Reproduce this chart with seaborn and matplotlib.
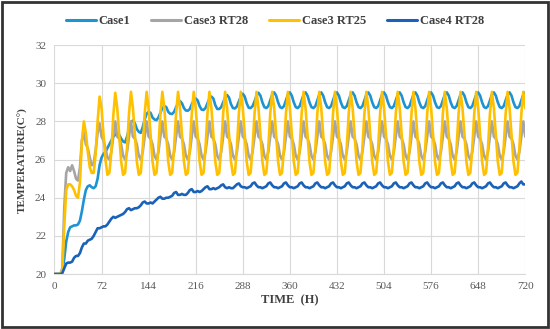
import numpy as np
import pandas as pd
import matplotlib.pyplot as plt
import seaborn as sns
from matplotlib.patches import Rectangle

# readings every 3 h, one row per day (t = 24k + 0,3,...,21), last value is t = 720
hours = np.arange(0, 721, 3)

case1 = [
    20.0, 20.0, 20.0, 20.0, 20.1, 20.8, 21.7, 22.2,
    22.45, 22.5, 22.55, 22.55, 22.6, 22.8, 23.3, 23.9,
    24.4, 24.6, 24.65, 24.55, 24.5, 24.6, 25.0, 25.7,
    26.1, 26.3, 26.4, 26.6, 26.8, 27.0, 27.2, 27.3,
    27.4, 27.3, 27.1, 26.95, 26.9, 27.2, 27.6, 27.95,
    28.05, 27.9, 27.6, 27.45, 27.4, 27.7, 28.1, 28.4,
    28.5, 28.45, 28.2, 28.1, 28.07, 28.2, 28.45, 28.7,
    28.8, 28.75, 28.5, 28.4, 28.39, 28.5, 28.75, 28.95,
    29.07, 28.95, 28.7, 28.57, 28.56, 28.65, 28.9, 29.1,
    29.2, 29.1, 28.8, 28.62, 28.6, 28.7, 28.95, 29.2,
    29.3, 29.2, 28.85, 28.65, 28.65, 28.75, 29.0, 29.25,
    29.38, 29.25, 28.9, 28.7, 28.68, 28.78, 29.05, 29.3,
    29.45, 29.3, 28.95, 28.72, 28.7, 28.8, 29.05, 29.35,
    29.5, 29.35, 29.0, 28.75, 28.7, 28.8, 29.1, 29.4,
    29.52, 29.35, 29.0, 28.75, 28.7, 28.8, 29.1, 29.4,
    29.52, 29.35, 29.0, 28.75, 28.7, 28.8, 29.1, 29.4,
    29.52, 29.35, 29.0, 28.75, 28.7, 28.8, 29.1, 29.4,
    29.52, 29.35, 29.0, 28.75, 28.7, 28.8, 29.1, 29.4,
    29.52, 29.35, 29.0, 28.75, 28.7, 28.8, 29.1, 29.4,
    29.52, 29.35, 29.0, 28.75, 28.7, 28.8, 29.1, 29.4,
    29.52, 29.35, 29.0, 28.75, 28.7, 28.8, 29.1, 29.4,
    29.52, 29.35, 29.0, 28.75, 28.7, 28.8, 29.1, 29.4,
    29.52, 29.35, 29.0, 28.75, 28.7, 28.8, 29.1, 29.4,
    29.52, 29.35, 29.0, 28.75, 28.7, 28.8, 29.1, 29.4,
    29.52, 29.35, 29.0, 28.75, 28.7, 28.8, 29.1, 29.4,
    29.52, 29.35, 29.0, 28.75, 28.7, 28.8, 29.1, 29.4,
    29.52, 29.35, 29.0, 28.75, 28.7, 28.8, 29.1, 29.4,
    29.52, 29.35, 29.0, 28.75, 28.7, 28.8, 29.1, 29.4,
    29.52, 29.35, 29.0, 28.75, 28.7, 28.8, 29.1, 29.4,
    29.52, 29.35, 29.0, 28.75, 28.7, 28.8, 29.1, 29.4,
    29.52,
]

case3_rt28 = [
    20.0, 20.0, 20.0, 20.0, 20.3, 23.5, 25.3, 25.6,
    25.4, 25.7, 25.4, 25.0, 24.9, 25.6, 27.0, 27.4,
    26.8, 26.6, 26.1, 25.7, 25.8, 26.5, 27.4, 27.9,
    27.2, 27.0, 26.6, 26.1, 26.0, 26.4, 27.2, 28.0,
    27.2, 27.1, 26.8, 26.2, 26.0, 26.4, 27.2, 28.0,
    27.2, 27.1, 26.8, 26.2, 26.0, 26.4, 27.2, 28.0,
    27.2, 27.1, 26.8, 26.2, 26.0, 26.4, 27.2, 28.0,
    27.2, 27.1, 26.8, 26.2, 26.0, 26.4, 27.2, 28.0,
    27.2, 27.1, 26.8, 26.2, 26.0, 26.4, 27.2, 28.0,
    27.2, 27.1, 26.8, 26.2, 26.0, 26.4, 27.2, 28.0,
    27.2, 27.1, 26.8, 26.2, 26.0, 26.4, 27.2, 28.0,
    27.2, 27.1, 26.8, 26.2, 26.0, 26.4, 27.2, 28.0,
    27.2, 27.1, 26.8, 26.2, 26.0, 26.4, 27.2, 28.0,
    27.2, 27.1, 26.8, 26.2, 26.0, 26.4, 27.2, 28.0,
    27.2, 27.1, 26.8, 26.2, 26.0, 26.4, 27.2, 28.0,
    27.2, 27.1, 26.8, 26.2, 26.0, 26.4, 27.2, 28.0,
    27.2, 27.1, 26.8, 26.2, 26.0, 26.4, 27.2, 28.0,
    27.2, 27.1, 26.8, 26.2, 26.0, 26.4, 27.2, 28.0,
    27.2, 27.1, 26.8, 26.2, 26.0, 26.4, 27.2, 28.0,
    27.2, 27.1, 26.8, 26.2, 26.0, 26.4, 27.2, 28.0,
    27.2, 27.1, 26.8, 26.2, 26.0, 26.4, 27.2, 28.0,
    27.2, 27.1, 26.8, 26.2, 26.0, 26.4, 27.2, 28.0,
    27.2, 27.1, 26.8, 26.2, 26.0, 26.4, 27.2, 28.0,
    27.2, 27.1, 26.8, 26.2, 26.0, 26.4, 27.2, 28.0,
    27.2, 27.1, 26.8, 26.2, 26.0, 26.4, 27.2, 28.0,
    27.2, 27.1, 26.8, 26.2, 26.0, 26.4, 27.2, 28.0,
    27.2, 27.1, 26.8, 26.2, 26.0, 26.4, 27.2, 28.0,
    27.2, 27.1, 26.8, 26.2, 26.0, 26.4, 27.2, 28.0,
    27.2, 27.1, 26.8, 26.2, 26.0, 26.4, 27.2, 28.0,
    27.2, 27.1, 26.8, 26.2, 26.0, 26.4, 27.2, 28.0,
    27.2,
]

case3_rt25 = [
    20.0, 20.0, 20.0, 20.0, 20.2, 22.5, 24.4, 24.7,
    24.7, 24.6, 24.4, 24.1, 24.0, 24.8, 27.0, 28.0,
    27.4, 26.4, 25.6, 25.3, 25.3, 26.3, 28.0, 29.3,
    28.7, 27.3, 26.0, 25.2, 25.3, 26.4, 28.3, 29.5,
    28.7, 27.3, 25.9, 25.2, 25.3, 26.6, 28.4, 29.55,
    28.7, 27.3, 25.9, 25.2, 25.3, 26.6, 28.4, 29.55,
    28.7, 27.3, 25.9, 25.2, 25.3, 26.6, 28.4, 29.55,
    28.7, 27.3, 25.9, 25.2, 25.3, 26.6, 28.4, 29.55,
    28.7, 27.3, 25.9, 25.2, 25.3, 26.6, 28.4, 29.55,
    28.7, 27.3, 25.9, 25.2, 25.3, 26.6, 28.4, 29.55,
    28.7, 27.3, 25.9, 25.2, 25.3, 26.6, 28.4, 29.55,
    28.7, 27.3, 25.9, 25.2, 25.3, 26.6, 28.4, 29.55,
    28.7, 27.3, 25.9, 25.2, 25.3, 26.6, 28.4, 29.55,
    28.7, 27.3, 25.9, 25.2, 25.3, 26.6, 28.4, 29.55,
    28.7, 27.3, 25.9, 25.2, 25.3, 26.6, 28.4, 29.55,
    28.7, 27.3, 25.9, 25.2, 25.3, 26.6, 28.4, 29.55,
    28.7, 27.3, 25.9, 25.2, 25.3, 26.6, 28.4, 29.55,
    28.7, 27.3, 25.9, 25.2, 25.3, 26.6, 28.4, 29.55,
    28.7, 27.3, 25.9, 25.2, 25.3, 26.6, 28.4, 29.55,
    28.7, 27.3, 25.9, 25.2, 25.3, 26.6, 28.4, 29.55,
    28.7, 27.3, 25.9, 25.2, 25.3, 26.6, 28.4, 29.55,
    28.7, 27.3, 25.9, 25.2, 25.3, 26.6, 28.4, 29.55,
    28.7, 27.3, 25.9, 25.2, 25.3, 26.6, 28.4, 29.55,
    28.7, 27.3, 25.9, 25.2, 25.3, 26.6, 28.4, 29.55,
    28.7, 27.3, 25.9, 25.2, 25.3, 26.6, 28.4, 29.55,
    28.7, 27.3, 25.9, 25.2, 25.3, 26.6, 28.4, 29.55,
    28.7, 27.3, 25.9, 25.2, 25.3, 26.6, 28.4, 29.55,
    28.7, 27.3, 25.9, 25.2, 25.3, 26.6, 28.4, 29.55,
    28.7, 27.3, 25.9, 25.2, 25.3, 26.6, 28.4, 29.55,
    28.7, 27.3, 25.9, 25.2, 25.3, 26.6, 28.4, 29.55,
    28.7,
]

case4_rt28 = [
    20.0, 20.0, 20.0, 20.0, 20.05, 20.3, 20.55, 20.6,
    20.6, 20.65, 20.85, 20.95, 20.95, 21.1, 21.4, 21.6,
    21.6, 21.75, 21.8, 21.85, 22.0, 22.2, 22.4, 22.4,
    22.45, 22.5, 22.5, 22.6, 22.75, 22.9, 23.0, 22.95,
    23.0, 23.05, 23.1, 23.15, 23.25, 23.4, 23.45, 23.35,
    23.4, 23.45, 23.45, 23.5, 23.6, 23.75, 23.8, 23.7,
    23.7, 23.75, 23.7, 23.8, 23.9, 24.0, 24.05, 23.95,
    23.95, 24.0, 24.0, 24.05, 24.1, 24.25, 24.3, 24.15,
    24.15, 24.2, 24.15, 24.15, 24.25, 24.4, 24.45, 24.3,
    24.3, 24.35, 24.3, 24.35, 24.45, 24.55, 24.6, 24.45,
    24.45, 24.5, 24.45, 24.5, 24.55, 24.65, 24.7, 24.55,
    24.5, 24.55, 24.5, 24.5, 24.6, 24.7, 24.75, 24.6,
    24.55, 24.55, 24.5, 24.55, 24.6, 24.75, 24.8, 24.65,
    24.55, 24.55, 24.5, 24.55, 24.6, 24.75, 24.8, 24.65,
    24.55, 24.55, 24.5, 24.55, 24.6, 24.75, 24.8, 24.65,
    24.55, 24.55, 24.5, 24.55, 24.6, 24.75, 24.8, 24.65,
    24.55, 24.55, 24.5, 24.55, 24.6, 24.75, 24.8, 24.65,
    24.55, 24.55, 24.5, 24.55, 24.6, 24.75, 24.8, 24.65,
    24.55, 24.55, 24.5, 24.55, 24.6, 24.75, 24.8, 24.65,
    24.55, 24.55, 24.5, 24.55, 24.6, 24.75, 24.8, 24.65,
    24.55, 24.55, 24.5, 24.55, 24.6, 24.75, 24.8, 24.65,
    24.55, 24.55, 24.5, 24.55, 24.6, 24.75, 24.8, 24.65,
    24.55, 24.55, 24.5, 24.55, 24.6, 24.75, 24.8, 24.65,
    24.55, 24.55, 24.5, 24.55, 24.6, 24.75, 24.8, 24.65,
    24.55, 24.55, 24.5, 24.55, 24.6, 24.75, 24.8, 24.65,
    24.55, 24.55, 24.5, 24.55, 24.6, 24.75, 24.8, 24.65,
    24.55, 24.55, 24.5, 24.55, 24.6, 24.75, 24.8, 24.65,
    24.55, 24.55, 24.5, 24.55, 24.6, 24.75, 24.8, 24.65,
    24.55, 24.55, 24.5, 24.55, 24.6, 24.75, 24.8, 24.65,
    24.55, 24.55, 24.5, 24.55, 24.6, 24.75, 24.85, 24.7,
    24.7,
]

series_names = ['Case1', 'Case3 RT28', 'Case3 RT25', 'Case4 RT28']
colors = ['#1e93d3', '#a5a5a5', '#ffc000', '#1a62b8']
x_ticks = [0, 72, 144, 216, 288, 360, 432, 504, 576, 648, 720]
y_ticks = [20, 22, 24, 26, 28, 30, 32]

# long format for seaborn
frames = []
for name, vals in zip(series_names, [case1, case3_rt28, case3_rt25, case4_rt28]):
    frames.append(pd.DataFrame({'Time': hours, 'Temp': vals, 'Series': name}))
df = pd.concat(frames, ignore_index=True)

sns.set_style('white')
plt.rcParams['font.family'] = ['Liberation Serif', 'DejaVu Serif']

fig = plt.figure(figsize=(5.5, 3.29), dpi=100)
ax = fig.add_axes([0.099, 0.167, 0.856, 0.696])

sns.lineplot(data=df, x='Time', y='Temp', hue='Series', hue_order=series_names,
             palette=colors, linewidth=1.9, ax=ax, legend=False)

ax.set_xlim(0, 720)
ax.set_ylim(20, 32)
ax.set_xticks(x_ticks)
ax.set_yticks(y_ticks)
ax.tick_params(axis='both', labelsize=8, labelcolor='#595959', length=0, pad=6)
ax.grid(True, color='#d9d9d9', linewidth=0.8)
for s in ax.spines.values():
    s.set_visible(False)
ax.spines['bottom'].set_visible(True)
ax.spines['bottom'].set_color('#d9d9d9')

ax.set_xlabel('TIME  (H)', fontsize=9, fontweight='bold', color='#404040', labelpad=2)
ax.set_ylabel('TEMPERATURE(C°)', fontsize=8, fontweight='bold', color='#404040', labelpad=5)

handles = [plt.Line2D([], [], color=c, linewidth=2.2) for c in colors]
fig.legend(handles, series_names, loc='center', bbox_to_anchor=(0.5, 0.935), ncol=4,
           frameon=False, prop={'size': 9, 'weight': 'bold'}, handlelength=2.4,
           handletextpad=0.2, columnspacing=1.7, labelcolor='#404040')

# outer frame around the chart
fig.patches.append(Rectangle((0.004, 0.005), 0.992, 0.99, transform=fig.transFigure,
                             fill=False, edgecolor='#333333', linewidth=2))

fig.savefig('out.png', dpi=100)
